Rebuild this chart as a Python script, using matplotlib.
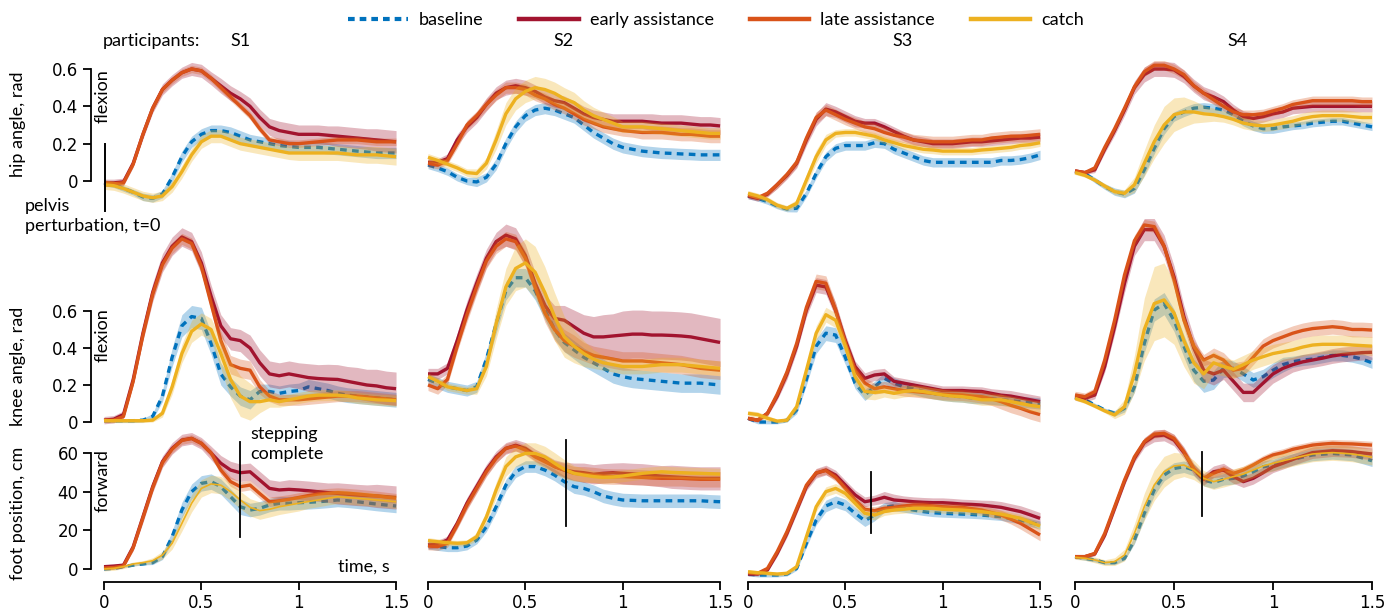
import numpy as np
import matplotlib.pyplot as plt
from matplotlib.lines import Line2D

plt.rcParams['font.family'] = ['Lato', 'DejaVu Sans']

time_s = [0.00, 0.05, 0.10, 0.15, 0.20, 0.25, 0.30, 0.35, 0.40, 0.45,
          0.50, 0.55, 0.60, 0.65, 0.70, 0.75, 0.80, 0.85, 0.90, 0.95,
          1.00, 1.05, 1.10, 1.15, 1.20, 1.25, 1.30, 1.35, 1.40, 1.45, 1.50]

# ---- hip angle, rad (mean) ----
hip_s1_base = [-0.01, -0.02, -0.04, -0.06, -0.085, -0.093, -0.07, 0.02, 0.13, 0.21,
               0.25, 0.27, 0.27, 0.26, 0.24, 0.22, 0.21, 0.20, 0.19, 0.185,
               0.18, 0.18, 0.18, 0.175, 0.17, 0.165, 0.16, 0.155, 0.15, 0.15, 0.15]
hip_s1_early = [-0.01, -0.01, -0.005, 0.095, 0.25, 0.39, 0.49, 0.54, 0.58, 0.60,
                0.59, 0.55, 0.51, 0.47, 0.44, 0.40, 0.34, 0.29, 0.27, 0.26,
                0.25, 0.25, 0.25, 0.245, 0.24, 0.235, 0.23, 0.225, 0.22, 0.215, 0.21]
hip_s1_late = [-0.01, -0.015, -0.01, 0.09, 0.25, 0.39, 0.49, 0.54, 0.58, 0.60,
               0.59, 0.55, 0.50, 0.45, 0.40, 0.35, 0.28, 0.22, 0.21, 0.20,
               0.20, 0.205, 0.21, 0.215, 0.22, 0.22, 0.22, 0.215, 0.21, 0.21, 0.21]
hip_s1_catch = [-0.02, -0.025, -0.04, -0.06, -0.08, -0.09, -0.08, -0.03, 0.05, 0.14,
                0.21, 0.24, 0.24, 0.22, 0.20, 0.19, 0.18, 0.17, 0.16, 0.15,
                0.15, 0.15, 0.15, 0.15, 0.15, 0.145, 0.14, 0.14, 0.14, 0.135, 0.13]

hip_s2_base = [0.086, 0.07, 0.05, 0.02, 0.0, -0.005, 0.02, 0.09, 0.20, 0.29,
               0.35, 0.38, 0.39, 0.38, 0.36, 0.34, 0.30, 0.26, 0.23, 0.20,
               0.18, 0.17, 0.16, 0.155, 0.15, 0.148, 0.145, 0.143, 0.14, 0.14, 0.14]
hip_s2_early = [0.10, 0.10, 0.12, 0.22, 0.29, 0.34, 0.41, 0.47, 0.50, 0.51,
                0.50, 0.48, 0.45, 0.43, 0.42, 0.39, 0.36, 0.34, 0.33, 0.32,
                0.32, 0.32, 0.32, 0.315, 0.31, 0.31, 0.31, 0.305, 0.30, 0.30, 0.295]
hip_s2_late = [0.095, 0.085, 0.11, 0.20, 0.30, 0.35, 0.41, 0.46, 0.50, 0.50,
               0.49, 0.46, 0.44, 0.41, 0.39, 0.36, 0.33, 0.31, 0.29, 0.28,
               0.27, 0.265, 0.26, 0.26, 0.26, 0.255, 0.25, 0.25, 0.245, 0.24, 0.24]
hip_s2_catch = [0.127, 0.11, 0.09, 0.07, 0.045, 0.04, 0.095, 0.22, 0.36, 0.44,
                0.48, 0.50, 0.49, 0.47, 0.44, 0.42, 0.38, 0.35, 0.33, 0.31,
                0.29, 0.29, 0.29, 0.285, 0.28, 0.275, 0.27, 0.265, 0.26, 0.255, 0.255]

hip_s3_base = [-0.08, -0.093, -0.11, -0.134, -0.15, -0.146, -0.066, 0.04, 0.13, 0.175,
               0.19, 0.19, 0.19, 0.205, 0.20, 0.17, 0.15, 0.13, 0.11, 0.10,
               0.10, 0.10, 0.10, 0.10, 0.10, 0.10, 0.11, 0.11, 0.115, 0.125, 0.14]
hip_s3_early = [-0.08, -0.093, -0.07, -0.02, 0.03, 0.095, 0.22, 0.33, 0.385, 0.37,
                0.345, 0.32, 0.31, 0.31, 0.29, 0.265, 0.24, 0.22, 0.21, 0.20,
                0.20, 0.20, 0.205, 0.21, 0.21, 0.215, 0.22, 0.225, 0.23, 0.23, 0.235]
hip_s3_late = [-0.075, -0.09, -0.066, -0.02, 0.035, 0.10, 0.23, 0.34, 0.38, 0.355,
               0.33, 0.31, 0.29, 0.28, 0.26, 0.245, 0.235, 0.22, 0.215, 0.21,
               0.21, 0.21, 0.215, 0.22, 0.22, 0.23, 0.235, 0.24, 0.24, 0.245, 0.25]
hip_s3_catch = [-0.066, -0.08, -0.10, -0.13, -0.146, -0.12, 0.005, 0.13, 0.22, 0.255,
                0.26, 0.26, 0.25, 0.24, 0.22, 0.205, 0.19, 0.18, 0.17, 0.166,
                0.16, 0.16, 0.16, 0.16, 0.166, 0.17, 0.175, 0.18, 0.19, 0.195, 0.205]

hip_s4_base = [0.05, 0.04, 0.005, -0.03, -0.057, -0.07, -0.04, 0.06, 0.175, 0.28,
               0.345, 0.37, 0.39, 0.395, 0.39, 0.38, 0.355, 0.32, 0.295, 0.28,
               0.28, 0.29, 0.295, 0.30, 0.31, 0.315, 0.32, 0.32, 0.31, 0.30, 0.29]
hip_s4_early = [0.054, 0.045, 0.06, 0.17, 0.27, 0.38, 0.50, 0.57, 0.60, 0.60,
                0.595, 0.56, 0.51, 0.47, 0.45, 0.425, 0.38, 0.345, 0.335, 0.345,
                0.36, 0.37, 0.39, 0.395, 0.40, 0.40, 0.40, 0.40, 0.40, 0.40, 0.40]
hip_s4_late = [0.054, 0.045, 0.07, 0.18, 0.28, 0.39, 0.505, 0.585, 0.62, 0.62,
               0.60, 0.57, 0.51, 0.47, 0.435, 0.40, 0.37, 0.355, 0.355, 0.36,
               0.375, 0.39, 0.41, 0.42, 0.43, 0.43, 0.43, 0.43, 0.43, 0.425, 0.425]
hip_s4_catch = [0.045, 0.03, 0.005, -0.027, -0.057, -0.066, -0.02, 0.095, 0.21, 0.30,
                0.355, 0.37, 0.37, 0.36, 0.355, 0.345, 0.33, 0.31, 0.30, 0.295,
                0.30, 0.31, 0.32, 0.335, 0.345, 0.35, 0.35, 0.35, 0.345, 0.34, 0.34]

# ---- hip angle spread ----
hip_s1_base_sd = [.015, .015, .015, .015, .02, .02, .02, .025, .03, .03,
                  .03, .03, .03, .03, .03, .03, .03, .03, .03, .03,
                  .03, .03, .03, .03, .03, .03, .03, .03, .03, .03, .03]
hip_s1_early_sd = [.02, .02, .02, .02, .025, .025, .03, .03, .03, .035,
                   .035, .035, .04, .04, .04, .045, .045, .045, .05, .05,
                   .05, .05, .05, .05, .055, .055, .055, .055, .06, .06, .06]
hip_s1_late_sd = [.015, .015, .015, .015, .015, .02, .02, .02, .02, .02,
                  .02, .02, .02, .02, .02, .02, .02, .02, .02, .02,
                  .02, .02, .02, .02, .02, .02, .02, .02, .02, .02, .02]
hip_s1_catch_sd = [.025, .025, .025, .025, .025, .025, .025, .03, .035, .035,
                   .035, .035, .035, .035, .035, .035, .035, .035, .035, .035,
                   .04, .04, .04, .04, .04, .04, .04, .045, .045, .045, .045]

hip_s2_base_sd = [.02, .02, .02, .02, .02, .025, .025, .03, .03, .03,
                  .03, .03, .03, .03, .03, .03, .03, .03, .03, .03,
                  .03, .03, .03, .03, .03, .03, .03, .03, .03, .03, .03]
hip_s2_early_sd = [.02, .02, .025, .03, .03, .03, .035, .035, .04, .04,
                   .04, .035, .035, .035, .035, .04, .04, .04, .04, .04,
                   .04, .04, .04, .045, .045, .045, .045, .045, .045, .045, .045]
hip_s2_late_sd = [.02, .02, .02, .025, .025, .025, .03, .03, .03, .03,
                  .03, .03, .03, .03, .03, .03, .03, .03, .03, .03,
                  .03, .03, .035, .035, .035, .035, .035, .035, .035, .035, .035]
hip_s2_catch_sd = [.02, .02, .02, .02, .02, .025, .03, .05, .06, .06,
                   .06, .06, .06, .06, .06, .055, .05, .045, .04, .035,
                   .03, .03, .03, .03, .03, .03, .03, .03, .03, .03, .03]

hip_s3_base_sd = [.015, .015, .015, .015, .015, .02, .02, .025, .025, .025,
                  .025, .025, .025, .025, .025, .025, .025, .025, .025, .025,
                  .025, .025, .025, .025, .025, .025, .025, .025, .025, .025, .025]
hip_s3_early_sd = [.015, .015, .015, .02, .02, .025, .03, .035, .035, .03,
                   .03, .03, .025, .025, .025, .025, .025, .025, .025, .025,
                   .025, .025, .025, .025, .025, .025, .025, .025, .025, .025, .025]
hip_s3_late_sd = [.015, .015, .015, .02, .02, .025, .03, .03, .03, .03,
                  .03, .03, .03, .03, .03, .03, .03, .03, .03, .03,
                  .03, .03, .03, .03, .03, .03, .03, .03, .03, .03, .03]
hip_s3_catch_sd = [.015, .015, .015, .015, .015, .02, .03, .035, .03, .02,
                   .02, .02, .02, .02, .02, .02, .02, .02, .02, .02,
                   .02, .02, .02, .02, .02, .02, .02, .02, .02, .02, .02]

hip_s4_base_sd = [.01, .01, .015, .015, .02, .02, .025, .03, .03, .03,
                  .025, .025, .025, .025, .025, .025, .025, .025, .025, .025,
                  .025, .025, .02, .02, .02, .02, .02, .02, .02, .02, .02]
hip_s4_early_sd = [.01, .01, .015, .02, .025, .03, .035, .04, .04, .04,
                   .04, .035, .035, .035, .035, .03, .03, .03, .03, .03,
                   .03, .03, .03, .03, .03, .03, .03, .03, .03, .03, .03]
hip_s4_late_sd = [.01, .01, .015, .02, .02, .02, .02, .025, .025, .025,
                  .025, .025, .025, .025, .025, .025, .025, .025, .025, .025,
                  .025, .025, .025, .025, .025, .025, .025, .025, .025, .025, .025]
hip_s4_catch_sd = [.01, .01, .01, .015, .015, .02, .04, .07, .09, .10,
                   .09, .08, .06, .045, .035, .03, .03, .03, .03, .03,
                   .03, .03, .03, .03, .03, .03, .03, .03, .03, .03, .03]

# ---- knee angle, rad (mean) ----
knee_s1_base = [0.007, 0.007, 0.007, 0.007, 0.01, 0.03, 0.14, 0.35, 0.52, 0.57,
                0.56, 0.425, 0.26, 0.19, 0.14, 0.12, 0.165, 0.165, 0.155, 0.165,
                0.17, 0.19, 0.18, 0.17, 0.155, 0.145, 0.14, 0.135, 0.13, 0.125, 0.12]
knee_s1_early = [0.01, 0.015, 0.04, 0.23, 0.48, 0.70, 0.86, 0.95, 1.0, 0.975,
                 0.86, 0.68, 0.52, 0.45, 0.44, 0.40, 0.32, 0.26, 0.25, 0.26,
                 0.25, 0.24, 0.235, 0.232, 0.23, 0.22, 0.21, 0.20, 0.195, 0.185, 0.18]
knee_s1_late = [0.01, 0.01, 0.03, 0.22, 0.47, 0.69, 0.85, 0.94, 0.99, 0.965,
                0.84, 0.64, 0.44, 0.31, 0.29, 0.28, 0.19, 0.14, 0.12, 0.12,
                0.12, 0.125, 0.13, 0.135, 0.14, 0.14, 0.14, 0.135, 0.13, 0.125, 0.12]
knee_s1_catch = [0.007, 0.007, 0.007, 0.007, 0.007, 0.01, 0.047, 0.19, 0.37, 0.49,
                 0.53, 0.50, 0.37, 0.23, 0.14, 0.11, 0.11, 0.12, 0.11, 0.12,
                 0.13, 0.14, 0.145, 0.145, 0.145, 0.14, 0.13, 0.125, 0.12, 0.118, 0.115]

knee_s2_base = [0.23, 0.21, 0.19, 0.18, 0.17, 0.19, 0.34, 0.53, 0.71, 0.78,
                0.78, 0.71, 0.605, 0.50, 0.43, 0.39, 0.35, 0.32, 0.29, 0.26,
                0.245, 0.235, 0.23, 0.225, 0.22, 0.215, 0.21, 0.21, 0.21, 0.205, 0.20]
knee_s2_early = [0.26, 0.26, 0.29, 0.44, 0.605, 0.75, 0.885, 0.975, 1.01, 0.99,
                 0.90, 0.75, 0.63, 0.56, 0.55, 0.515, 0.48, 0.46, 0.46, 0.465,
                 0.47, 0.475, 0.475, 0.47, 0.47, 0.468, 0.465, 0.46, 0.45, 0.44, 0.43]
knee_s2_late = [0.20, 0.18, 0.23, 0.41, 0.58, 0.73, 0.87, 0.95, 0.99, 0.975,
                0.885, 0.73, 0.59, 0.50, 0.44, 0.41, 0.38, 0.36, 0.35, 0.34,
                0.33, 0.33, 0.33, 0.325, 0.32, 0.315, 0.31, 0.30, 0.29, 0.285, 0.28]
knee_s2_catch = [0.245, 0.22, 0.19, 0.18, 0.17, 0.18, 0.30, 0.53, 0.73, 0.83,
                 0.86, 0.81, 0.70, 0.57, 0.46, 0.41, 0.37, 0.34, 0.32, 0.31,
                 0.30, 0.30, 0.30, 0.305, 0.31, 0.31, 0.31, 0.305, 0.30, 0.295, 0.29]

knee_s3_base = [0.02, 0.0, 0.0, 0.0, 0.01, 0.065, 0.23, 0.41, 0.48, 0.47,
                0.35, 0.21, 0.146, 0.19, 0.236, 0.21, 0.19, 0.18, 0.165, 0.155,
                0.146, 0.14, 0.137, 0.13, 0.128, 0.125, 0.12, 0.115, 0.11, 0.105, 0.10]
knee_s3_early = [0.02, 0.01, 0.047, 0.14, 0.26, 0.41, 0.605, 0.74, 0.73, 0.605,
                 0.44, 0.30, 0.236, 0.254, 0.26, 0.22, 0.21, 0.20, 0.19, 0.18,
                 0.17, 0.17, 0.17, 0.167, 0.165, 0.155, 0.145, 0.14, 0.13, 0.12, 0.11]
knee_s3_late = [0.02, 0.01, 0.047, 0.15, 0.27, 0.425, 0.62, 0.76, 0.75, 0.605,
                0.425, 0.28, 0.21, 0.18, 0.19, 0.18, 0.17, 0.165, 0.16, 0.155,
                0.15, 0.148, 0.146, 0.14, 0.137, 0.125, 0.11, 0.09, 0.074, 0.055, 0.04]
knee_s3_catch = [0.047, 0.04, 0.02, 0.005, 0.01, 0.083, 0.28, 0.48, 0.58, 0.55,
                 0.41, 0.245, 0.165, 0.16, 0.165, 0.155, 0.165, 0.17, 0.165, 0.155,
                 0.146, 0.14, 0.137, 0.13, 0.12, 0.12, 0.12, 0.11, 0.10, 0.09, 0.083]

knee_s4_base = [0.133, 0.12, 0.092, 0.065, 0.047, 0.074, 0.19, 0.425, 0.605, 0.64,
                0.55, 0.41, 0.28, 0.22, 0.227, 0.29, 0.29, 0.26, 0.227, 0.245,
                0.28, 0.31, 0.326, 0.335, 0.34, 0.35, 0.36, 0.36, 0.353, 0.34, 0.32]
knee_s4_early = [0.137, 0.128, 0.146, 0.30, 0.515, 0.75, 0.95, 1.04, 1.04, 0.95,
                 0.785, 0.57, 0.40, 0.28, 0.26, 0.28, 0.22, 0.16, 0.16, 0.21,
                 0.26, 0.29, 0.31, 0.325, 0.335, 0.345, 0.357, 0.365, 0.37, 0.375, 0.377]
knee_s4_late = [0.146, 0.137, 0.164, 0.335, 0.55, 0.795, 0.98, 1.065, 1.056, 0.95,
                0.77, 0.55, 0.41, 0.335, 0.36, 0.335, 0.28, 0.29, 0.35, 0.41,
                0.44, 0.46, 0.48, 0.495, 0.505, 0.51, 0.515, 0.51, 0.50, 0.50, 0.497]
knee_s4_catch = [0.128, 0.11, 0.086, 0.06, 0.038, 0.083, 0.26, 0.50, 0.64, 0.66,
                 0.59, 0.44, 0.32, 0.26, 0.32, 0.30, 0.285, 0.31, 0.335, 0.353,
                 0.37, 0.38, 0.39, 0.405, 0.416, 0.42, 0.42, 0.42, 0.416, 0.413, 0.41]

# ---- knee angle spread ----
knee_s1_base_sd = [.01, .01, .01, .01, .01, .015, .03, .05, .06, .06,
                   .06, .06, .06, .05, .05, .05, .04, .04, .04, .04,
                   .04, .04, .04, .04, .04, .04, .04, .04, .04, .04, .04]
knee_s1_early_sd = [.02, .02, .02, .03, .04, .05, .05, .05, .05, .05,
                    .06, .06, .06, .06, .06, .07, .07, .07, .07, .07,
                    .07, .075, .075, .08, .08, .08, .085, .085, .09, .09, .09]
knee_s1_late_sd = [.01, .01, .01, .02, .03, .03, .03, .03, .03, .03,
                   .03, .04, .05, .05, .05, .05, .04, .03, .03, .03,
                   .03, .03, .03, .03, .03, .03, .03, .03, .03, .03, .03]
knee_s1_catch_sd = [.01, .01, .01, .01, .01, .01, .02, .04, .05, .06,
                    .06, .06, .08, .10, .11, .10, .06, .04, .03, .03,
                    .03, .03, .03, .03, .03, .03, .03, .03, .03, .03, .03]

knee_s2_base_sd = [.03, .03, .03, .03, .03, .03, .04, .05, .05, .05,
                   .05, .05, .05, .05, .05, .05, .05, .05, .05, .05,
                   .05, .05, .05, .05, .05, .05, .05, .05, .05, .05, .05]
knee_s2_early_sd = [.03, .03, .03, .04, .05, .05, .05, .05, .06, .06,
                    .06, .06, .06, .07, .08, .09, .10, .11, .12, .12,
                    .13, .13, .13, .13, .13, .13, .13, .13, .13, .13, .13]
knee_s2_late_sd = [.03, .03, .03, .03, .04, .04, .04, .04, .04, .04,
                   .04, .04, .05, .06, .06, .06, .05, .05, .05, .05,
                   .05, .05, .05, .05, .05, .05, .05, .05, .05, .05, .05]
knee_s2_catch_sd = [.02, .02, .02, .02, .02, .03, .05, .08, .10, .12,
                    .13, .14, .14, .13, .11, .09, .07, .05, .04, .04,
                    .04, .04, .04, .04, .04, .04, .04, .04, .04, .04, .04]

knee_s3_base_sd = [.01, .01, .01, .01, .01, .02, .03, .04, .04, .04,
                   .04, .03, .03, .03, .03, .03, .03, .03, .03, .03,
                   .03, .03, .03, .03, .03, .03, .03, .03, .03, .03, .03]
knee_s3_early_sd = [.01, .01, .015, .02, .03, .03, .035, .04, .04, .04,
                    .035, .03, .03, .03, .03, .025, .025, .025, .025, .025,
                    .025, .025, .025, .025, .025, .025, .03, .03, .03, .03, .03]
knee_s3_late_sd = [.01, .01, .015, .02, .03, .03, .035, .04, .04, .04,
                   .035, .03, .03, .03, .03, .03, .03, .03, .03, .03,
                   .03, .03, .03, .03, .035, .035, .04, .04, .04, .04, .04]
knee_s3_catch_sd = [.015, .015, .015, .01, .01, .02, .03, .04, .04, .04,
                    .04, .04, .04, .04, .03, .03, .03, .03, .03, .03,
                    .03, .03, .03, .03, .03, .03, .03, .03, .03, .03, .03]

knee_s4_base_sd = [.01, .01, .01, .01, .015, .02, .03, .05, .06, .06,
                   .06, .06, .06, .06, .05, .05, .04, .04, .04, .04,
                   .04, .04, .03, .03, .03, .03, .03, .03, .03, .03, .03]
knee_s4_early_sd = [.02, .02, .02, .03, .04, .05, .05, .06, .06, .06,
                    .06, .06, .06, .06, .06, .05, .05, .05, .05, .05,
                    .05, .05, .04, .04, .04, .04, .04, .04, .04, .04, .04]
knee_s4_late_sd = [.02, .02, .02, .03, .03, .03, .03, .03, .03, .03,
                   .03, .03, .03, .03, .04, .04, .04, .04, .04, .04,
                   .04, .04, .04, .04, .04, .04, .04, .04, .04, .04, .04]
knee_s4_catch_sd = [.01, .01, .01, .01, .02, .04, .10, .17, .20, .20,
                    .17, .14, .11, .08, .06, .05, .05, .05, .05, .05,
                    .05, .05, .05, .05, .05, .05, .05, .05, .05, .05, .05]

# ---- foot position, cm (mean) ----
foot_s1_base = [0, 0.3, 1.2, 2, 2.6, 3.3, 6.4, 16.7, 30.5, 40,
                44.3, 45.2, 42.6, 37.4, 32.2, 30.5, 31.4, 33.1, 34, 34,
                34.3, 34.5, 34.8, 35.2, 35.7, 35.3, 34.8, 34.2, 33.6, 33.1, 32.6]
foot_s1_early = [1.2, 1.5, 2, 11.5, 27, 42.6, 55.5, 62.4, 66.7, 67.6,
                 65, 60, 54.7, 51.2, 49.8, 50.3, 46, 41.7, 40.9, 41.2,
                 40.9, 40.5, 40, 39.5, 39.1, 38.7, 38.3, 38, 37.8, 37.4, 37]
foot_s1_late = [0.5, 0.8, 1.5, 11, 26.5, 42, 55, 62, 66.5, 67.5,
                65, 60, 51.2, 45.2, 42.6, 43.4, 39, 34.8, 35.3, 36,
                37, 38, 38.8, 39.2, 39.5, 39.2, 38.8, 38.3, 37.8, 37.2, 36.6]
foot_s1_catch = [0, 0.3, 1.2, 2.6, 3.3, 4.3, 7.2, 13.3, 23.6, 34,
                 41.7, 44, 43.4, 40, 35.7, 31.9, 30.2, 30.9, 32.2, 33.1,
                 34, 34.9, 35.7, 36.6, 37.4, 37, 36.6, 36.2, 35.7, 35.3, 34.8]

foot_s2_base = [12.4, 11.6, 11, 11, 11.9, 15, 21.9, 32.2, 43.4, 50.3,
                53, 53, 51.2, 48.6, 45.2, 42.6, 41.7, 40, 37.8, 36.6,
                35.7, 35.5, 35.3, 35.3, 35.3, 35.3, 35.3, 35.3, 35.3, 35, 34.8]
foot_s2_early = [12.4, 12.9, 15, 23.6, 34, 42.6, 51.2, 58, 62.4, 64,
                 62.4, 59, 56.4, 53, 51.2, 50.3, 49.8, 49, 49.5, 49.8,
                 49.5, 49.2, 49, 48.5, 48, 47.7, 47.4, 47.1, 46.9, 46.9, 46.9]
foot_s2_late = [11.9, 11.6, 13.3, 22.8, 33, 41.7, 50.3, 57.2, 62.4, 63.6,
                61.5, 58, 55.5, 53, 51.2, 49.5, 49, 48.6, 48, 47.8,
                47.8, 47.6, 47.4, 47.1, 46.9, 46.9, 46.9, 46.6, 46.4, 46.4, 46.4]
foot_s2_catch = [14.7, 14.1, 13.6, 13.3, 13.6, 16.7, 27, 40.9, 53, 58,
                 59.8, 59.8, 58, 54.7, 51.6, 49.5, 48.6, 47.8, 47.4, 47.6,
                 48.1, 48.8, 49.5, 49.9, 50.3, 50, 49.8, 49.6, 49.5, 49.3, 49.1]

foot_s3_base = [-2.6, -3.1, -3.1, -3.1, -2.6, 0.3, 13.3, 25.3, 32.6, 34.8,
                33.1, 28.8, 25, 27.9, 31.9, 32.6, 31.4, 30.5, 29.7, 29.1,
                28.8, 28.6, 28.4, 28.2, 27.9, 27.5, 27.1, 26.2, 25.3, 24, 22.8]
foot_s3_early = [-2.6, -2.6, -0.5, 8.1, 18.4, 30.5, 42.6, 49.5, 51.2, 48.6,
                 43.4, 38.3, 34.8, 35.7, 37.1, 35.7, 35.3, 34.8, 34.5, 34.3,
                 34.3, 34, 33.6, 33.4, 33.1, 32.5, 31.9, 30.8, 29.7, 28, 26.2]
foot_s3_late = [-1.9, -2.2, 0.3, 9, 19.3, 31.4, 43.4, 49.8, 50.9, 47.4,
                41.7, 35.7, 30.9, 30.2, 31.4, 31.9, 32.6, 33.1, 33.1, 32.6,
                32.2, 32, 31.9, 31.2, 30.5, 29.2, 27.9, 25.8, 23.6, 20.6, 17.6]
foot_s3_catch = [-1.4, -1.9, -2.2, -2.6, -2.2, 1.2, 16.7, 32.2, 40, 41.7,
                 39.1, 34, 28.8, 27.9, 29.7, 30.5, 30.9, 31.4, 31.4, 31.4,
                 30.9, 30.7, 30.5, 30.1, 29.7, 29, 28.4, 27.3, 26.2, 24.2, 22.2]

foot_s4_base = [6.4, 5.5, 4.7, 3.3, 3.3, 5.5, 15, 28.8, 40.9, 48.6,
                52, 52.9, 51.2, 46, 44.7, 46.4, 46.9, 48.1, 50.3, 52.9,
                53.8, 55.5, 56.7, 57.9, 59, 59.4, 59.8, 59.4, 59, 57.5, 56]
foot_s4_early = [6.4, 6.4, 7.8, 17.5, 31.4, 45.2, 57.2, 65.4, 68.8, 69.3,
                 66.7, 60.2, 51.6, 46.4, 50.3, 51.2, 47.8, 45.2, 46.9, 49.8,
                 52.9, 54.7, 56.7, 58.5, 60.2, 60.7, 61.2, 61, 60.7, 60.1, 59.5]
foot_s4_late = [6.4, 6.4, 8.1, 18.4, 32.2, 46, 58, 65.9, 69.8, 70.2,
                67.6, 60.7, 52, 46.9, 49.5, 51.6, 49.5, 51.2, 53.8, 56.7,
                59, 60.2, 61.9, 63, 64.1, 64.6, 65, 64.8, 64.7, 64.4, 64.1]
foot_s4_catch = [6, 5.5, 4.7, 3.3, 3.8, 7.2, 18.4, 32.2, 43.4, 50.3,
                 53.3, 53.8, 51.2, 46.9, 45.2, 46.4, 47.8, 49.1, 51.2, 53.3,
                 54.7, 56, 57.2, 58.4, 59.5, 59.9, 60.2, 59.9, 59.5, 58.7, 57.8]

# ---- foot position spread ----
foot_s1_base_sd = [0.5, 0.5, 0.5, 0.5, 0.5, 1, 1.5, 3, 4, 4,
                   4, 4, 4, 4, 4, 3.5, 3.5, 3.5, 3.5, 3.5,
                   3.5, 3.5, 3.5, 3.5, 3.5, 3.5, 3.5, 3.5, 3.5, 3.5, 3.5]
foot_s1_early_sd = [1, 1, 1, 2, 3, 3, 3, 3, 3, 3,
                    3, 3.5, 4, 4.5, 4.5, 4.5, 4.5, 4.5, 4.5, 5,
                    5, 5, 5, 5, 5.5, 5.5, 5.5, 5.5, 6, 6, 6]
foot_s1_late_sd = [1, 1, 1, 1.5, 2, 2, 2, 2, 2, 2,
                   2, 2, 2.5, 2.5, 2.5, 2.5, 2.5, 2.5, 2.5, 2.5,
                   2.5, 2.5, 2.5, 2.5, 2.5, 2.5, 2.5, 2.5, 2.5, 2.5, 2.5]
foot_s1_catch_sd = [1, 1, 1, 1, 1, 1.5, 2, 3, 4, 4.5,
                    4.5, 4.5, 4.5, 4.5, 4.5, 4.5, 4.5, 4, 4, 4,
                    4, 3.5, 3.5, 3.5, 3.5, 3.5, 3.5, 3.5, 3.5, 3.5, 3.5]

foot_s2_base_sd = [2, 2, 2, 2, 2, 2, 2.5, 3, 3, 3,
                   3, 3, 3, 3, 3, 3.5, 3.5, 3.5, 3.5, 3.5,
                   3.5, 3.5, 3.5, 3.5, 3.5, 3.5, 3.5, 3.5, 3.5, 3.5, 3.5]
foot_s2_early_sd = [2, 2, 2, 2.5, 3, 3, 3, 3, 3, 3,
                    3, 3, 3, 3.5, 4, 4.5, 5, 5, 5, 5,
                    5.5, 5.5, 5.5, 5.5, 5.5, 6, 6, 6, 6, 6, 6]
foot_s2_late_sd = [2, 2, 2, 2, 2.5, 2.5, 2.5, 2.5, 2.5, 2.5,
                   2.5, 2.5, 3, 3, 3.5, 3.5, 4, 4, 4, 4,
                   4, 4, 4, 4, 4, 4, 4, 4, 4, 4, 4]
foot_s2_catch_sd = [1.5, 1.5, 1.5, 1.5, 1.5, 2, 3, 4, 5, 5,
                    5.5, 5.5, 5.5, 5.5, 5, 4, 3.5, 3, 3, 3,
                    3, 3, 3, 3, 3, 3, 3, 3, 3, 3, 3]

foot_s3_base_sd = [1, 1, 1, 1, 1, 1, 2, 2.5, 3, 3,
                   3, 3, 3, 3, 2.5, 2.5, 2, 2, 2, 2,
                   2, 2, 2, 2, 2, 2, 2, 2, 2, 2, 2]
foot_s3_early_sd = [1, 1, 1, 1.5, 2, 2, 2, 2.5, 2.5, 2.5,
                    2.5, 2.5, 2.5, 2.5, 3, 3, 2.5, 2.5, 2.5, 2.5,
                    2.5, 2.5, 2.5, 2.5, 2.5, 3, 3, 3, 3, 3, 3]
foot_s3_late_sd = [1, 1, 1, 1.5, 2, 2, 2, 2, 2, 2,
                   2, 2, 2, 2, 2, 2, 2, 2, 2, 2,
                   2, 2, 2, 2, 2, 2.5, 2.5, 2.5, 3, 3, 3]
foot_s3_catch_sd = [1, 1, 1, 1, 1, 1, 2, 2.5, 2.5, 2.5,
                    2.5, 2.5, 2.5, 2.5, 2, 2, 2, 2, 2, 2,
                    2, 2, 2, 2, 2, 2, 2, 2, 2, 2, 2]

foot_s4_base_sd = [1, 1, 1, 1, 1, 1, 2, 3, 3, 3,
                   3, 3, 3, 3, 3, 3, 3, 3, 3, 3,
                   3, 3, 3, 3, 3, 3, 3, 3, 3, 3, 3]
foot_s4_early_sd = [1, 1, 1, 1.5, 2, 2, 2, 2.5, 3, 3,
                    3, 3, 3, 3, 3, 3.5, 3.5, 3, 3, 3,
                    3, 3, 3, 3, 3, 3, 3, 3, 3, 3, 3]
foot_s4_late_sd = [1, 1, 1, 1.5, 2, 2, 2, 2, 2, 2,
                   2, 2, 2, 2, 2, 2, 2, 2, 2, 2,
                   2, 2, 2, 2, 2, 2, 2, 2, 2, 2, 2]
foot_s4_catch_sd = [1, 1, 1.5, 1.5, 2, 3, 5, 7, 8, 8,
                    7, 6, 5, 4, 4, 4, 4, 4, 4, 4,
                    4, 4, 4, 4, 4, 4, 4, 4, 4, 4, 4]

# stepping complete marker per participant (time, s) and its extent (cm)
step_time = [0.70, 0.71, 0.63, 0.64]
step_lo = [16.5, 22, 18.5, 27.5]
step_hi = [65.5, 66.5, 50, 60.5]

conditions = ['baseline', 'early assistance', 'late assistance', 'catch']
participants = ['S1', 'S2', 'S3', 'S4']
colors = ['#0072BD', '#A2142F', '#D95319', '#EDB120']

means = [
    [[hip_s1_base, hip_s1_early, hip_s1_late, hip_s1_catch],
     [hip_s2_base, hip_s2_early, hip_s2_late, hip_s2_catch],
     [hip_s3_base, hip_s3_early, hip_s3_late, hip_s3_catch],
     [hip_s4_base, hip_s4_early, hip_s4_late, hip_s4_catch]],
    [[knee_s1_base, knee_s1_early, knee_s1_late, knee_s1_catch],
     [knee_s2_base, knee_s2_early, knee_s2_late, knee_s2_catch],
     [knee_s3_base, knee_s3_early, knee_s3_late, knee_s3_catch],
     [knee_s4_base, knee_s4_early, knee_s4_late, knee_s4_catch]],
    [[foot_s1_base, foot_s1_early, foot_s1_late, foot_s1_catch],
     [foot_s2_base, foot_s2_early, foot_s2_late, foot_s2_catch],
     [foot_s3_base, foot_s3_early, foot_s3_late, foot_s3_catch],
     [foot_s4_base, foot_s4_early, foot_s4_late, foot_s4_catch]],
]
sds = [
    [[hip_s1_base_sd, hip_s1_early_sd, hip_s1_late_sd, hip_s1_catch_sd],
     [hip_s2_base_sd, hip_s2_early_sd, hip_s2_late_sd, hip_s2_catch_sd],
     [hip_s3_base_sd, hip_s3_early_sd, hip_s3_late_sd, hip_s3_catch_sd],
     [hip_s4_base_sd, hip_s4_early_sd, hip_s4_late_sd, hip_s4_catch_sd]],
    [[knee_s1_base_sd, knee_s1_early_sd, knee_s1_late_sd, knee_s1_catch_sd],
     [knee_s2_base_sd, knee_s2_early_sd, knee_s2_late_sd, knee_s2_catch_sd],
     [knee_s3_base_sd, knee_s3_early_sd, knee_s3_late_sd, knee_s3_catch_sd],
     [knee_s4_base_sd, knee_s4_early_sd, knee_s4_late_sd, knee_s4_catch_sd]],
    [[foot_s1_base_sd, foot_s1_early_sd, foot_s1_late_sd, foot_s1_catch_sd],
     [foot_s2_base_sd, foot_s2_early_sd, foot_s2_late_sd, foot_s2_catch_sd],
     [foot_s3_base_sd, foot_s3_early_sd, foot_s3_late_sd, foot_s3_catch_sd],
     [foot_s4_base_sd, foot_s4_early_sd, foot_s4_late_sd, foot_s4_catch_sd]],
]

row_ticks = [[0, 0.2, 0.4, 0.6], [0, 0.2, 0.4, 0.6], [0, 20, 40, 60]]
row_ticklabels = [['0', '0.2', '0.4', '0.6'], ['0', '0.2', '0.4', '0.6'],
                  ['0', '20', '40', '60']]
x_ticks = [0, 0.5, 1, 1.5]
x_ticklabels = ['0', '0.5', '1', '1.5']

# layout in pixels of the 1395x614 canvas
W, H = 1395, 614
col_x0 = [104, 428, 748, 1075]
col_px = [194.7, 194.7, 194.7, 198.0]
row_y0 = [181, 422, 569]
row_px = [186.7, 185.0, 1.933]
row_ylim = [(-0.2, 0.68), (-0.06, 1.2), (-6.7, 75)]
x_lo, x_hi = -0.067, 1.56
tick_font = {'family': 'DejaVu Sans', 'size': 12}

fig = plt.figure(figsize=(W / 100, H / 100), dpi=100)
t = np.array(time_s)

axes = {}
for r in range(3):
    for c in range(4):
        left = col_x0[c] + x_lo * col_px[c]
        right = col_x0[c] + x_hi * col_px[c]
        y_lo, y_hi = row_ylim[r]
        top = row_y0[r] - y_hi * row_px[r]
        bot = row_y0[r] - y_lo * row_px[r]
        ax = fig.add_axes([left / W, 1 - bot / H, (right - left) / W, (bot - top) / H])
        ax.patch.set_visible(False)
        ax.set_xlim(x_lo, x_hi)
        ax.set_ylim(y_lo, y_hi)
        axes[r, c] = ax

        for k in range(4):
            m = np.array(means[r][c][k], dtype=float)
            s = np.array(sds[r][c][k], dtype=float)
            ax.fill_between(t, m - s, m + s, color=colors[k], alpha=0.3,
                            lw=0, zorder=2 * k + 1)
            lw = 2.4
            if k == 3 and r == 2 and c in (0, 3):
                lw = 1.2
            if k == 0:
                ax.plot(t, m, color=colors[k], lw=lw, dashes=(2.0, 1.6),
                        zorder=2 * k + 2)
            else:
                ax.plot(t, m, color=colors[k], lw=lw, zorder=2 * k + 2,
                        solid_capstyle='butt')

        for sp in ax.spines.values():
            sp.set_visible(False)
        ax.set_xticks([])
        ax.set_yticks([])

        if c == 0:
            ax.spines['left'].set_visible(True)
            ax.spines['left'].set_linewidth(1.3)
            ax.spines['left'].set_bounds(row_ticks[r][0], row_ticks[r][-1])
            ax.set_yticks(row_ticks[r])
            ax.set_yticklabels(row_ticklabels[r], fontdict=tick_font)
            ax.tick_params(axis='y', direction='out', length=6, width=1.3, pad=3)
        if r == 2:
            ax.spines['bottom'].set_visible(True)
            ax.spines['bottom'].set_linewidth(1.3)
            ax.spines['bottom'].set_bounds(0, 1.5)
            ax.set_xticks(x_ticks)
            ax.set_xticklabels(x_ticklabels, fontdict=tick_font)
            ax.tick_params(axis='x', direction='out', length=6, width=1.3, pad=3)
            ax.plot([step_time[c], step_time[c]], [step_lo[c], step_hi[c]],
                    color='black', lw=1.3, zorder=20)

# pelvis perturbation marker
axes[0, 0].plot([0.005, 0.005], [0.2, -0.16], color='black', lw=1.4,
                clip_on=False, zorder=20)

fs = 13
fig.text(103 / W, 1 - 41 / H, 'participants:', fontsize=fs, va='center', ha='left')
for c, x in enumerate([240, 563, 903, 1238]):
    fig.text(x / W, 1 - 41 / H, participants[c], fontsize=fs, va='center', ha='center')

fig.text(18 / W, 1 - 124 / H, 'hip angle, rad', rotation=90, fontsize=fs,
         va='center', ha='center')
fig.text(18 / W, 1 - 366 / H, 'knee angle, rad', rotation=90, fontsize=fs,
         va='center', ha='center')
fig.text(18 / W, 1 - 513 / H, 'foot position, cm', rotation=90, fontsize=fs,
         va='center', ha='center')

fig.text(103 / W, 1 - 96 / H, 'flexion', rotation=90, fontsize=fs, va='center', ha='center')
fig.text(103 / W, 1 - 335 / H, 'flexion', rotation=90, fontsize=fs, va='center', ha='center')
fig.text(103 / W, 1 - 481 / H, 'forward', rotation=90, fontsize=fs, va='center', ha='center')

fig.text(25 / W, 1 - 206 / H, 'pelvis', fontsize=fs, va='center', ha='left')
fig.text(25 / W, 1 - 226 / H, 'perturbation, t=0', fontsize=fs, va='center', ha='left')
fig.text(250 / W, 1 - 434 / H, 'stepping', fontsize=fs, va='center', ha='left')
fig.text(250 / W, 1 - 454 / H, 'complete', fontsize=fs, va='center', ha='left')
fig.text(390 / W, 1 - 567 / H, 'time, s', fontsize=fs, va='center', ha='right')

handles = []
for k in range(4):
    if k == 0:
        handles.append(Line2D([], [], color=colors[k], lw=3, dashes=(1.6, 1.2)))
    else:
        handles.append(Line2D([], [], color=colors[k], lw=3.2))
fig.legend(handles, conditions, loc='center', bbox_to_anchor=(716 / W, 1 - 20 / H),
           ncol=4, frameon=False, fontsize=fs, handlelength=3.3,
           handletextpad=0.6, columnspacing=2.0)

fig.savefig('out.png', dpi=100)
